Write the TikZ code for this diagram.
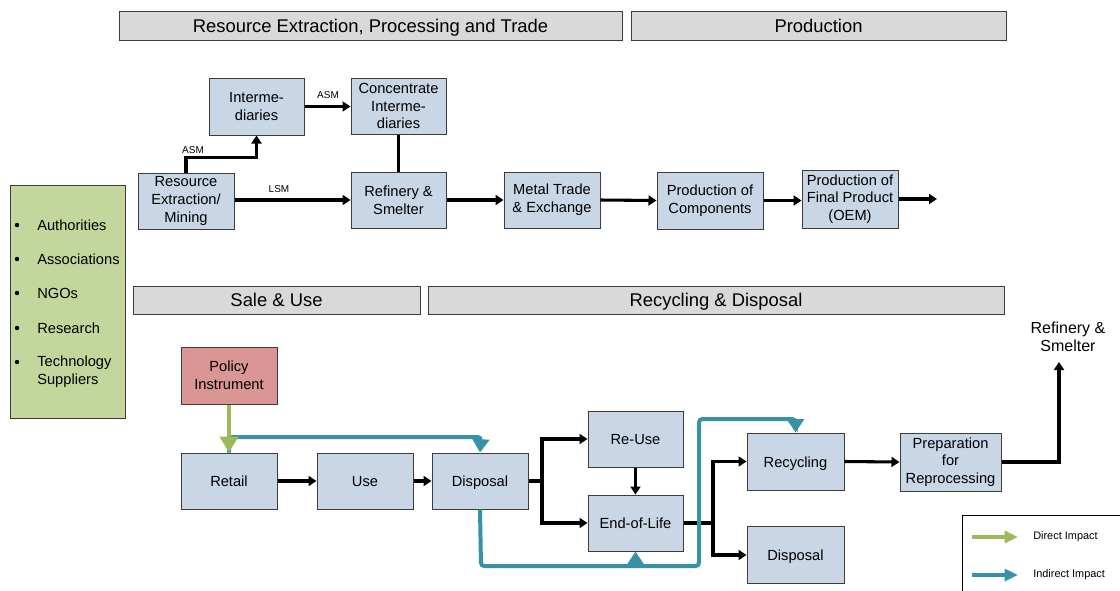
\documentclass[tikz,border=0pt]{standalone}
\usepackage{fontspec}
\setmainfont{Liberation Sans}
\usetikzlibrary{arrows.meta}
\definecolor{boxblue}{RGB}{200,214,230}
\definecolor{hdrgray}{RGB}{217,217,217}
\definecolor{actgreen}{RGB}{195,214,155}
\definecolor{polred}{RGB}{217,150,148}
\definecolor{impgreen}{RGB}{155,187,89}
\definecolor{impblue}{RGB}{55,146,168}
\definecolor{edgegray}{RGB}{60,60,60}
\begin{document}
\begin{tikzpicture}[x=0.75pt,y=-0.75pt,
  sz/.style 2 args={minimum width=#1*0.75pt,minimum height=#2*0.75pt},
  stage/.style={draw=edgegray,line width=0.75pt,fill=boxblue,align=center,inner sep=1pt,
                font=\fontsize{11}{13.2}\selectfont},
  oneline/.style={text height=9.5pt,text depth=1pt},
  policy/.style={stage,fill=polred},
  hdr/.style={draw=edgegray,line width=0.75pt,fill=hdrgray,inner sep=0pt,
              text height=11pt,text depth=1pt,
              font=\fontsize{13.8}{16}\selectfont},
  lbl/.style={font=\fontsize{7.5}{9}\selectfont,inner sep=0pt},
  item/.style={anchor=west,align=left,inner sep=0pt,font=\fontsize{11}{13.5}\selectfont},
  flowline/.style={line width=2.3pt,black},
  flow/.style={flowline,-{Triangle[length=6pt,width=7.5pt]}},
  blueimp/.style={line width=3pt,impblue,rounded corners=2.5pt,
                  -{Triangle[length=10pt,width=12.5pt]}},
  greenimp/.style={line width=3.5pt,impgreen,
                   -{Triangle[length=12pt,width=13.5pt]}},
  legarrow/.style={line width=2.3pt,-{Triangle[length=10pt,width=9pt]}},
  legtext/.style={anchor=west,inner sep=0pt,font=\fontsize{8.2}{10}\selectfont}]
\useasboundingbox (0,0) rectangle (1120,590);

% ---------- stage headers ----------
\node[hdr,sz={503}{29}] (h1) at (370.5,25.5) {Resource Extraction, Processing and Trade};
\node[hdr,sz={375}{29}] (h2) at (818.5,25.5) {Production};
\node[hdr,sz={287}{28}] (h3) at (276.5,300) {Sale \& Use};
\node[hdr,sz={576}{28}] (h4) at (716,300) {Recycling \& Disposal};

% ---------- actors ----------
\node[draw=edgegray,line width=0.75pt,fill=actgreen,sz={115}{233}] (actors) at (67.5,301.5) {};
\foreach \yy in {225,259,293,328,362} \fill (17,\yy) circle (2.2);
\node[item] (a1) at (37,225) {Authorities};
\node[item] (a2) at (37,259) {Associations};
\node[item] (a3) at (37,293) {NGOs};
\node[item] (a4) at (37,328) {Research};
\node[item,anchor=north west] (a5) at (37,356) {Technology\\Suppliers};

% ---------- upstream chain ----------
\node[stage,sz={95}{57}] (inter) at (256.5,106.5) {Interme-\\diaries};
\node[stage,sz={95}{56}] (conc)  at (398.5,106) {Concentrate\\Interme-\\diaries};
\node[stage,sz={96}{56}] (res)   at (186,201) {Resource\\Extraction/\\Mining};
\node[stage,sz={95}{56}] (ref)   at (398.5,200) {Refinery \&\\Smelter};
\node[stage,sz={96}{56}] (metal) at (552,200) {Metal Trade\\\& Exchange};
\node[stage,sz={106}{57}] (comp) at (710,200.5) {Production of\\Components};
\node[stage,sz={96}{58}] (oem)   at (850,199) {Production of\\Final Product\\(OEM)};
\coordinate (oemout) at (937,199);

\draw[flow] (res.north) -- ++(0,-15) -| (inter.south);
\node[lbl] (asm1) at (193,150) {ASM};
\draw[flow] (inter.east) -- (inter.east -| conc.west);
\node[lbl] (asm2) at (328,95) {ASM};
\draw[flowline] (conc.south) -- (ref.north);
\draw[flow] (res.east |- ref.west) -- (ref.west);
\node[lbl] (lsm) at (279,189) {LSM};
\draw[flow] (ref.east) -- (metal.west);
\draw[flow] (metal.east) -- (comp.west);
\draw[flow] (comp.east) -- (comp.east -| oem.west);
\draw[flow] (oem.east) -- (oemout);

% ---------- use and end-of-life chain ----------
\node[policy,sz={96}{57}] (pol)   at (229,375.5) {Policy\\Instrument};
\node[stage,oneline,sz={96}{56}] (retail) at (229,481) {Retail};
\node[stage,oneline,sz={96}{56}] (use)    at (365,481) {Use};
\node[stage,oneline,sz={96}{56}] (disp)   at (480,481) {Disposal};
\node[stage,oneline,sz={95}{56}] (reuse)  at (635.5,439) {Re-Use};
\node[stage,oneline,sz={95}{56}] (eol)    at (635.5,523) {End-of-Life};
\node[stage,oneline,sz={97}{57}] (recyc)  at (795.5,461.5) {Recycling};
\node[stage,oneline,sz={97}{57}] (disp2)  at (795.5,555) {Disposal};
\node[stage,sz={101}{58}] (prep)  at (950.5,462) {Preparation\\for\\Reprocessing};
\node[align=center,inner sep=0pt,font=\fontsize{12}{13.5}\selectfont] (rs) at (1068,337) {Refinery \&\\Smelter};
\coordinate (rsin) at (1059,362);

\coordinate (dsplit) at (542,481);
\coordinate (esplit) at (713,523);
\draw[flow] (retail.east) -- (use.west);
\draw[flow] (use.east) -- (disp.west);
\draw[flowline] (disp.east) -- (dsplit);
\draw[flow] (dsplit) |- (reuse.west);
\draw[flow] (dsplit) |- (eol.west);
\draw[flow] (reuse.south) -- (eol.north);
\draw[flowline] (eol.east) -- (esplit);
\draw[flow] (esplit) |- (recyc.west);
\draw[flow] (esplit) |- (disp2.west);
\draw[flow] (recyc.east) -- (prep.west);
\draw[flow] (prep.east) -| (rsin);

% ---------- policy impacts ----------
\draw[blueimp] (retail.north) -- (229,437) -- (481,437) -- (disp.north);
\draw[blueimp] (disp.south) -- (481,566) -- (699,566) -- (699,419) -- (795.5,419) -- (recyc.north);
\draw[blueimp] (635.5,566) -- (eol.south);
\draw[greenimp] (pol.south) -- (retail.north);

% ---------- legend ----------
\node[draw=black,line width=0.75pt,anchor=north west,minimum width=180*0.75pt,minimum height=90*0.75pt] (legend) at (962,515) {};
\coordinate (lg1a) at (972,537);
\coordinate (lg1b) at (1018,537);
\coordinate (lg2a) at (972,575);
\coordinate (lg2b) at (1018,575);
\draw[legarrow,impgreen] (lg1a) -- (lg1b);
\draw[legarrow,impblue] (lg2a) -- (lg2b);
\node[legtext] (leg1) at (1033,537) {Direct Impact};
\node[legtext] (leg2) at (1033,575) {Indirect Impact};
\end{tikzpicture}
\end{document}
